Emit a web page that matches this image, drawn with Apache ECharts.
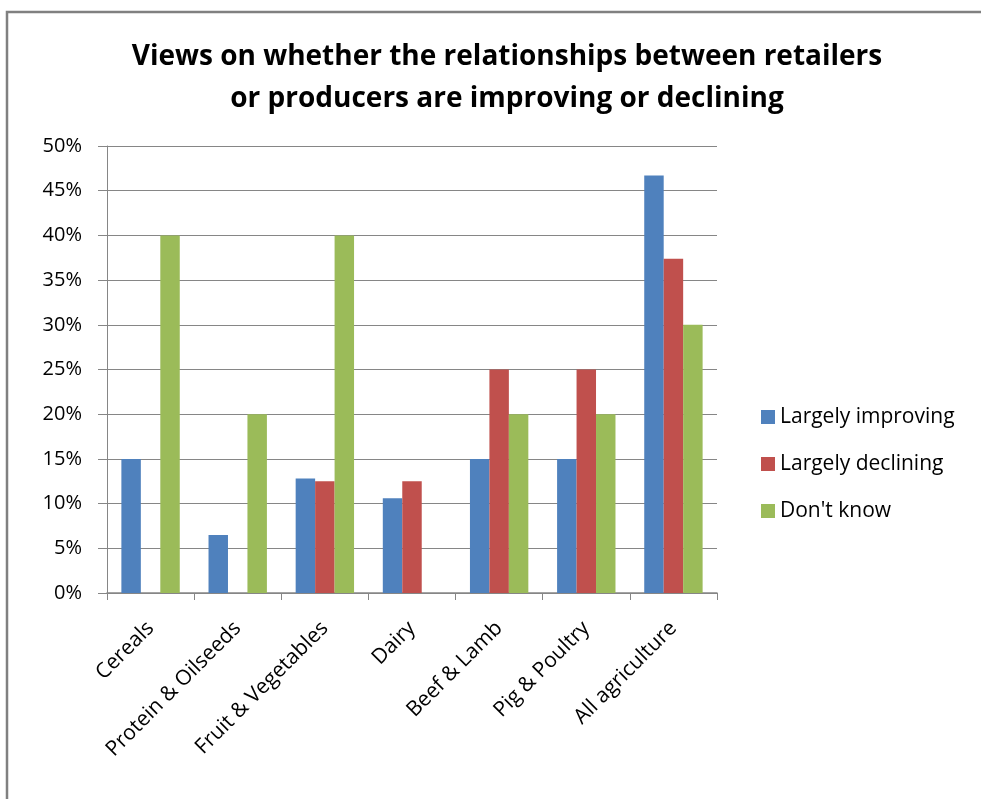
<!DOCTYPE html>
<html><head><meta charset="utf-8">
<script src="https://cdn.jsdelivr.net/npm/echarts@6/dist/echarts.min.js"></script>
<style>html,body{margin:0;padding:0;background:#fff}#c{width:981px;height:799px}</style>
</head><body><div id="c"></div>
<script>
const categories = ['Cereals','Protein & Oilseeds','Fruit & Vegetables','Dairy','Beef & Lamb','Pig & Poultry','All agriculture'];
const improving = [15, 6.5, 12.8, 10.6, 15, 15, 46.7];
const declining = [null, null, 12.5, 12.5, 25, 25, 37.4];
const dontKnow = [40, 20, 40, null, 20, 20, 30];
const yTicks = [0,5,10,15,20,25,30,35,40,45,50];
const font = 'Open Sans, Noto Sans, sans-serif';
const chart = echarts.init(document.getElementById('c'));
chart.setOption({
  animation:false,
  title:{text:'Views on whether the relationships between retailers\nor producers are improving or declining',left:502,top:31,textAlign:'center',
    textStyle:{fontFamily:font,fontSize:28,fontWeight:'bold',color:'#000',lineHeight:42}},
  graphic:[{type:'polyline',shape:{points:[[7,799],[7,12],[981,12]]},style:{stroke:'#808080',lineWidth:2.5,fill:null}}],
  legend:{orient:'vertical',left:756,top:401,itemGap:25,itemWidth:14,itemHeight:14,icon:'rect',
    textStyle:{fontFamily:font,fontSize:21,lineHeight:22,color:'#000'}},
  grid:{left:107,right:264,top:146,bottom:206},
  xAxis:{type:'category',data:categories,
    axisLine:{lineStyle:{color:'#868686',width:1.5}},
    axisTick:{show:true,length:7,lineStyle:{color:'#868686'}},
    axisLabel:{rotate:45,fontFamily:font,fontSize:21,color:'#000',margin:32,interval:0}},
  yAxis:{type:'value',min:0,max:50,interval:5,
    axisLine:{show:true,lineStyle:{color:'#868686'}},
    axisTick:{show:true,inside:false,length:9,lineStyle:{color:'#868686'}},
    splitLine:{lineStyle:{color:'#868686',width:1}},
    axisLabel:{formatter:v=>yTicks.includes(v)?v+'%':'',fontFamily:font,fontSize:20,color:'#000',margin:25}},
  series:[
    {name:'Largely improving',type:'bar',data:improving,itemStyle:{color:'#4f81bd'},barGap:'0%',barCategoryGap:'33%'},
    {name:'Largely declining',type:'bar',data:declining,itemStyle:{color:'#c0504d'}},
    {name:"Don't know",type:'bar',data:dontKnow,itemStyle:{color:'#9bbb59'}}
  ]
});
</script></body></html>
